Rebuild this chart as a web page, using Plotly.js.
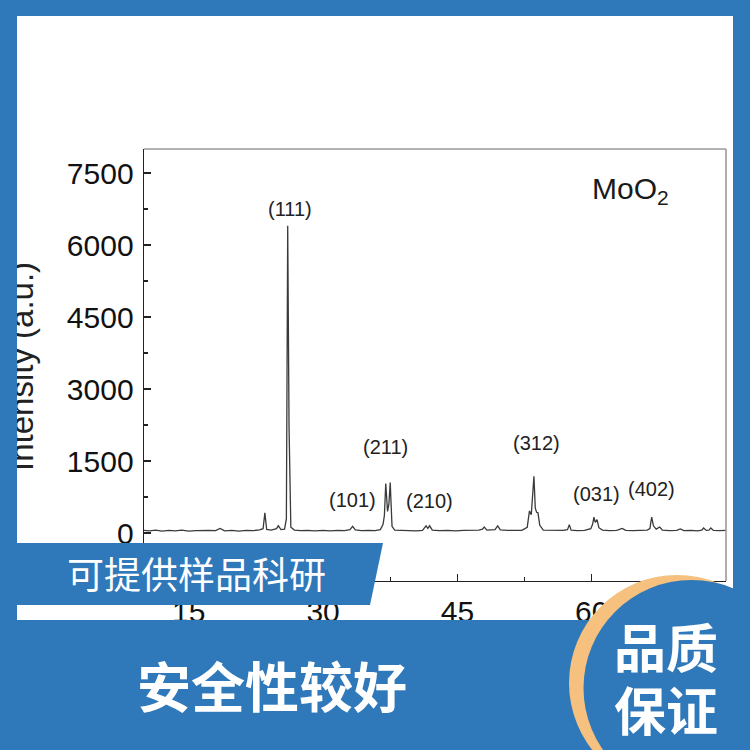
<!DOCTYPE html>
<html>
<head>
<meta charset="utf-8">
<script src="https://cdn.plot.ly/plotly-3.0.1.min.js"></script>
<style>html,body{margin:0;padding:0;background:#fff;}#chart{width:750px;height:750px;}</style>
</head>
<body>
<div id="chart"></div>
<script>
// ---- data ----
const twoTheta = [10.0,10.6,11.3,12.0,12.8,13.5,14.2,15.0,15.8,16.5,17.2,18.0,18.5,19.0,19.8,20.6,21.4,22.2,22.9,23.3,23.5,23.7,24.2,24.8,25.0,25.3,25.7,25.9,26.05,26.2,26.4,26.8,27.5,28.3,29.1,30.0,30.8,31.6,32.4,33.0,33.3,33.6,34.3,35.1,35.8,36.4,36.7,36.85,37.0,37.2,37.35,37.5,37.7,38.0,38.8,39.6,40.4,41.1,41.5,41.7,41.9,42.2,43.0,43.9,44.8,45.7,46.6,47.4,47.8,48.0,48.3,49.2,49.5,49.8,50.6,51.4,52.2,52.8,53.05,53.25,53.4,53.55,53.7,53.85,54.0,54.2,54.6,55.3,56.1,56.8,57.3,57.5,57.7,58.4,59.2,59.9,60.1,60.25,60.4,60.6,60.8,61.2,62.0,62.8,63.4,63.8,64.6,65.4,66.2,66.5,66.7,66.9,67.2,67.6,67.9,68.7,69.5,69.9,70.3,71.1,71.8,72.3,72.5,72.8,73.1,73.3,73.6,74.3,75.0];
const intensity = [55,45,60,40,55,45,60,40,50,45,55,50,95,45,55,40,55,50,65,90,420,75,60,90,150,70,80,300,6400,2200,120,60,50,55,45,55,45,55,50,70,140,65,50,55,50,70,180,370,1030,450,600,1050,140,60,50,55,45,55,150,95,150,60,50,55,45,55,50,60,80,125,60,70,150,65,55,50,55,120,460,380,700,1180,520,430,420,160,60,55,50,55,70,175,60,50,55,90,180,330,220,280,110,60,50,55,95,55,50,55,60,90,330,150,80,125,60,50,55,85,50,55,45,60,105,55,60,105,55,50,55];

const xTicks = [15, 30, 45, 60, 75];
const yTicks = [0, 1500, 3000, 4500, 6000, 7500];

const peakLabels = ['(111)', '(101)', '(211)', '(210)', '(312)', '(031)', '(402)'];
const peakLabelTheta = [26.3, 33.3, 37.0, 41.9, 53.8, 60.5, 66.7];
const peakLabelLevel = [6750, 690, 1790, 670, 1875, 810, 915];

const sampleName = 'MoO<sub>2</sub>';
const yTitle = 'Intensity (a.u.)';
const bannerText = '可提供样品科研';
const bottomText = '安全性较好';
const badgeLines = ['品质', '保证'];

// ---- styling / layout ----
const BLUE = '#2f78ba';
const ORANGE = '#f6c07f';
const LATIN = 'Liberation Sans, Arial, sans-serif';
const CJK = 'Noto Sans CJK SC, sans-serif';

const M = {l: 144, r: 24, t: 149, b: 169};
const PW = 750 - M.l - M.r, PH = 750 - M.t - M.b;
const X = p => (p - M.l) / PW;        // pixel -> paper
const Y = p => (750 - M.b - p) / PH;

function rect(x0, y0, x1, y1, color, layer) {
  return {type: 'rect', xref: 'paper', yref: 'paper', x0: X(x0), x1: X(x1), y0: Y(y1), y1: Y(y0),
          fillcolor: color, line: {width: 0}, layer: layer || 'above'};
}
function circle(cx, cy, r, color) {
  return {type: 'circle', xref: 'paper', yref: 'paper', x0: X(cx - r), x1: X(cx + r), y0: Y(cy + r), y1: Y(cy - r),
          fillcolor: color, line: {width: 0}, layer: 'above'};
}
function poly(pts, color) {
  const d = pts.map((p, i) => (i ? 'L' : 'M') + X(p[0]) + ',' + Y(p[1])).join(' ') + ' Z';
  return {type: 'path', xref: 'paper', yref: 'paper', path: d, fillcolor: color, line: {width: 0}, layer: 'above'};
}

const trace = {
  x: twoTheta, y: intensity, type: 'scatter', mode: 'lines',
  line: {color: '#3a3a3a', width: 1.3}, hoverinfo: 'skip', showlegend: false
};

const shapes = [
  {type: 'line', xref: 'paper', yref: 'paper', x0: 0, x1: 1, y0: 1, y1: 1, line: {color: '#9a9a9a', width: 1.6}, layer: 'above'},
  {type: 'line', xref: 'paper', yref: 'paper', x0: 1, x1: 1, y0: 0, y1: 1, line: {color: '#9a9a9a', width: 1.6}, layer: 'above'},
  rect(0, 0, 750, 16, BLUE),
  rect(733, 0, 750, 750, BLUE),
  rect(0, 620, 750, 750, BLUE),
  poly([[0, 543], [383, 543], [370, 605], [0, 605]], BLUE),
  circle(677, 683, 108, ORANGE),
  circle(691.5, 688, 108, BLUE)
];

const annotations = [];
annotations.push({xref: 'paper', yref: 'paper', x: X(21), y: Y(367), text: yTitle, textangle: -90,
  showarrow: false, xanchor: 'center', yanchor: 'middle', font: {family: LATIN, size: 33, color: '#222'}});
// left blue border drawn over the clipped axis title
annotations.push({xref: 'paper', yref: 'paper', x: X(0), y: Y(0), xanchor: 'left', yanchor: 'top',
  text: '<span style="color:' + BLUE + '">.</span>', showarrow: false, width: 17, height: 750,
  bgcolor: BLUE, borderpad: 0, borderwidth: 0, font: {size: 4, color: BLUE}});
annotations.push({xref: 'paper', yref: 'paper', x: X(630), y: Y(190), text: sampleName, showarrow: false,
  xanchor: 'center', yanchor: 'middle', font: {family: LATIN, size: 30, color: '#1a1a1a'}});
peakLabels.forEach((t, i) => annotations.push({
  xref: 'x', yref: 'y', x: peakLabelTheta[i], y: peakLabelLevel[i], text: t, showarrow: false,
  xanchor: 'center', yanchor: 'middle', font: {family: LATIN, size: 20, color: '#222'}}));
annotations.push({xref: 'paper', yref: 'paper', x: X(196), y: Y(573), text: bannerText, showarrow: false,
  xanchor: 'center', yanchor: 'middle', font: {family: CJK, size: 37, color: '#ffffff'}});
annotations.push({xref: 'paper', yref: 'paper', x: X(272), y: Y(684), text: '<b>' + bottomText + '</b>', showarrow: false,
  xanchor: 'center', yanchor: 'middle', font: {family: CJK, size: 54, color: '#ffffff'}});
badgeLines.forEach((t, i) => annotations.push({xref: 'paper', yref: 'paper', x: X(666), y: Y(645 + i * 63),
  text: '<b>' + t + '</b>', showarrow: false, xanchor: 'center', yanchor: 'middle',
  font: {family: CJK, size: 52, color: '#ffffff'}}));

const layout = {
  width: 750, height: 750, margin: M,
  paper_bgcolor: '#ffffff', plot_bgcolor: 'rgba(0,0,0,0)',
  showlegend: false,
  xaxis: {range: [10, 75], tickmode: 'array', tickvals: xTicks, ticktext: xTicks.map(String),
    ticks: 'inside', ticklen: 7, tickwidth: 1.3, tickcolor: '#222',
    minor: {ticks: 'inside', ticklen: 4, tickwidth: 1.2, tickcolor: '#222', dtick: 7.5, tick0: 0},
    showline: true, linecolor: '#222', linewidth: 1.4, showgrid: false, zeroline: false,
    ticklabelstandoff: 4, tickfont: {family: LATIN, size: 30, color: '#111'}},
  yaxis: {range: [-1000, 8000], tickmode: 'array', tickvals: yTicks, ticktext: yTicks.map(String),
    ticks: 'inside', ticklen: 7, tickwidth: 1.3, tickcolor: '#222',
    minor: {ticks: 'inside', ticklen: 4, tickwidth: 1.2, tickcolor: '#222', dtick: 750, tick0: 0},
    showline: true, linecolor: '#222', linewidth: 1.4, showgrid: false, zeroline: false,
    ticklabelstandoff: 3, tickfont: {family: LATIN, size: 30, color: '#111'}},
  shapes: shapes,
  annotations: annotations
};

Plotly.newPlot('chart', [trace], layout, {staticPlot: true, displayModeBar: false});
</script>
</body>
</html>
